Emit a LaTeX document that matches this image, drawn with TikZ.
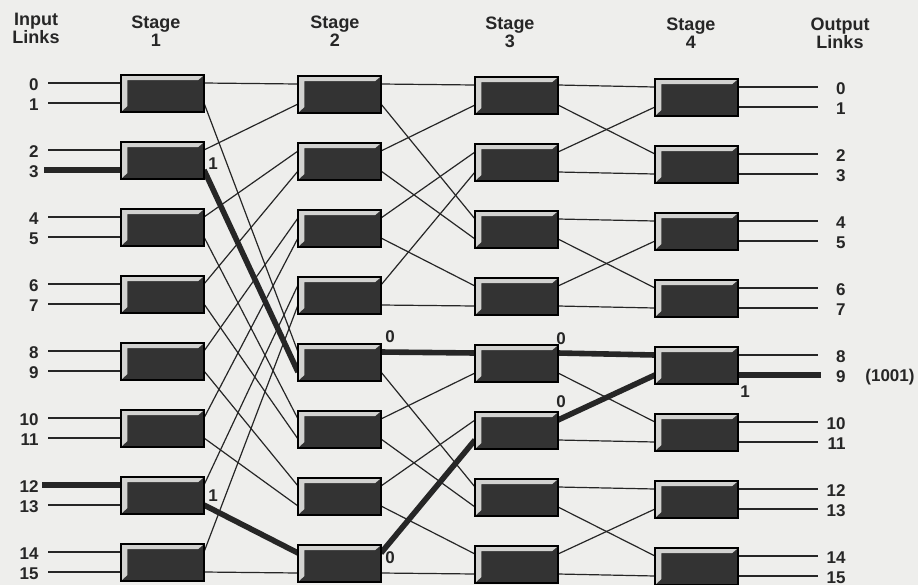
\documentclass[tikz,border=0pt]{standalone}
\usepackage{fontspec}
\setmainfont{Liberation Sans}
\usetikzlibrary{calc}
\definecolor{paper}{HTML}{EEEEEC}
\definecolor{boxdark}{HTML}{333333}
\definecolor{bevelc}{HTML}{D2D2D0}
\pgfdeclarelayer{back}
\pgfdeclarelayer{wires}
\pgfsetlayers{back,wires,main}
\tikzset{
  switch/.style={draw=black, line width=0.9pt, fill=boxdark,
    minimum width=41.5pt, minimum height=18.5pt, inner sep=0pt, outer sep=0pt,
    path picture={\fill[bevelc]
      ($(path picture bounding box.north west)+(0.4pt,-0.4pt)$) --
      ($(path picture bounding box.north east)+(-0.4pt,-0.4pt)$) --
      ($(path picture bounding box.north east)+(-3pt,-2.6pt)$) --
      ($(path picture bounding box.north west)+(3.2pt,-2.6pt)$) --
      ($(path picture bounding box.south west)+(3.2pt,3pt)$) --
      ($(path picture bounding box.south west)+(0.4pt,0.4pt)$) -- cycle;}},
  wire/.style={line width=0.6pt, black!85},
  heavy/.style={line width=2.8pt, black!85},
  lab/.style={font=\bfseries\fontsize{8.5}{9}\selectfont, inner sep=0pt, text=black!85},
  head/.style={font=\bfseries\fontsize{9}{9.2}\selectfont, inner sep=0pt, align=center, text=black!85},
}
\begin{document}
\begin{tikzpicture}[x=0.5pt,y=-0.5pt]
\useasboundingbox (0,0) rectangle (918,585);
\begin{pgfonlayer}{back}
  \fill[paper] (0,0) rectangle (918,585);
\end{pgfonlayer}

% headers
\node[head] (hin) at (36,28.5) {Input\\Links};
\node[head] (h1) at (156,31) {Stage\\1};
\node[head] (h2) at (335,31) {Stage\\2};
\node[head] (h3) at (510,32.5) {Stage\\3};
\node[head] (h4) at (691,33.5) {Stage\\4};
\node[head] (hout) at (840,33.5) {Output\\Links};

% switches and their ports
\foreach \s/\x/\o in {1/162.5/0, 2/339.5/1, 3/516.5/2, 4/696.5/4}{
  \foreach \r in {0,...,7}{
    \node[switch] (s\s-\r) at (\x,{93.5+\o+67*\r}) {};
    \pgfmathtruncatemacro\a{2*\r}
    \pgfmathtruncatemacro\b{2*\r+1}
    \coordinate (i\s-\a) at ($(s\s-\r.north west)+(0,-4pt)$);
    \coordinate (i\s-\b) at ($(s\s-\r.north west)+(0,-14pt)$);
    \coordinate (o\s-\a) at ($(s\s-\r.north east)+(0,-4pt)$);
    \coordinate (o\s-\b) at ($(s\s-\r.north east)+(0,-14pt)$);
  }
}

\begin{pgfonlayer}{wires}
% inter-stage links
\foreach \i in {0,...,15}{
  \pgfmathtruncatemacro\ta{int(\i/2)+8*mod(\i,2)}
  \draw[wire] (o1-\i) -- (i2-\ta);
  \pgfmathtruncatemacro\j{mod(\i,8)}
  \pgfmathtruncatemacro\tb{\i-\j+int(\j/2)+4*mod(\j,2)}
  \draw[wire] (o2-\i) -- (i3-\tb);
  \pgfmathtruncatemacro\k{mod(\i,4)}
  \pgfmathtruncatemacro\tc{\i-\k+int(\k/2)+2*mod(\k,2)}
  \draw[wire] (o3-\i) -- (i4-\tc);
}
% input and output links
\foreach \i in {0,...,15}{
  \coordinate (istart\i) at ($(i1-\i)+(-36.5pt,0)$);
  \coordinate (oend\i) at ($(o4-\i)+(40pt,0)$);
  \draw[wire] (istart\i) -- (i1-\i);
  \draw[wire] (o4-\i) -- (oend\i);
}
% highlighted paths
\coordinate (hs3) at ($(i1-3)+(-38.5pt,0)$);
\coordinate (hs12) at ($(i1-12)+(-39.5pt,0)$);
\coordinate (he9) at ($(o4-9)+(41.5pt,0)$);
\draw[heavy] (hs3) -- (i1-3);
\draw[heavy] (o1-3) -- (i2-9);
\draw[heavy] (o2-8) -- (i3-8);
\draw[heavy] (o3-8) -- (i4-8);
\draw[heavy] (o4-9) -- (he9);
\draw[heavy] (hs12) -- (i1-12);
\draw[heavy] (o1-13) -- (i2-14);
\draw[heavy] (o2-14) -- (i3-11);
\draw[heavy] (o3-10) -- (i4-9);
\end{pgfonlayer}

% link numbers
\foreach \i in {0,...,15}{
  \node[lab,anchor=east] (in\i) at ($(istart\i)+(-4.5pt,-1pt)$) {\i};
  \node[lab,anchor=east] (out\i) at ($(oend\i)+(14pt,-1pt)$) {\i};
}

% switch settings
\node[lab] (m1) at ($(s1-1.east)+(4.5pt,-1.5pt)$) {1};
\node[lab] (m2) at ($(s1-6.east)+(4.5pt,0pt)$) {1};
\node[lab] (m3) at ($(s2-4.north east)+(4.5pt,3.5pt)$) {0};
\node[lab] (m4) at ($(s2-7.east)+(4.5pt,2.75pt)$) {0};
\node[lab] (m5) at ($(s3-4.north east)+(1.5pt,3pt)$) {0};
\node[lab] (m6) at ($(s3-5.north east)+(1.5pt,5pt)$) {0};
\node[lab] (m7) at ($(s4-4.south east)+(3.5pt,-4pt)$) {1};
\node[lab] (addr) at (890,377) {(1001)};
\end{tikzpicture}
\end{document}
